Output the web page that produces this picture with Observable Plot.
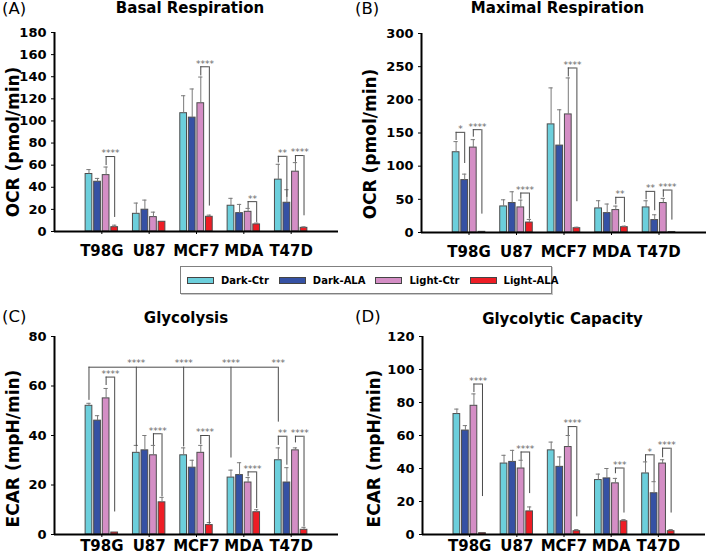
<!DOCTYPE html>
<html>
<head>
<meta charset="utf-8">
<script src="https://cdn.jsdelivr.net/npm/d3@7"></script>
<script src="https://cdn.jsdelivr.net/npm/@observablehq/plot@0.6"></script>
<style>
  body { margin: 0; background: #fff; }
  #root { position: relative; width: 709px; height: 559px; overflow: hidden; font-family: "DejaVu Sans", sans-serif; color: #000; }
  .panel { position: absolute; }
  .panel svg { overflow: visible; }
  .title { position: absolute; font-weight: bold; font-size: 15px; line-height: 15px; white-space: nowrap; transform: translateX(-50%); }
  .letter { position: absolute; font-size: 16.5px; line-height: 16.5px; white-space: nowrap; }
  #legend { position: absolute; left: 180px; top: 266px; width: 372px; height: 28px; box-sizing: border-box;
            border: 1px solid #808080; box-shadow: 1px 1px 0 #c8c8c8; display: flex; align-items: center;
            padding-left: 6px; gap: 10px; font: bold 10px "DejaVu Sans", sans-serif; white-space: nowrap; }
  #legend .item { display: flex; align-items: center; gap: 7px; }
  #legend .sw { width: 27px; height: 7px; border: 1px solid #444; box-sizing: border-box; }
</style>
</head>
<body>
<div id="root">
  <div id="pA" class="panel" style="left:0px;top:0px"></div>
  <div id="pB" class="panel" style="left:355px;top:0px"></div>
  <div id="pC" class="panel" style="left:0px;top:300px"></div>
  <div id="pD" class="panel" style="left:355px;top:300px"></div>
  <div class="letter" style="left:2px;top:1px">(A)</div>
  <div class="letter" style="left:355px;top:1px">(B)</div>
  <div class="letter" style="left:2px;top:308.5px">(C)</div>
  <div class="letter" style="left:355px;top:308.5px">(D)</div>
  <div class="title" style="left:190px;top:0.5px">Basal Respiration</div>
  <div class="title" style="left:557.5px;top:0.5px">Maximal Respiration</div>
  <div class="title" style="left:186px;top:311px">Glycolysis</div>
  <div class="title" style="left:562.5px;top:311.5px">Glycolytic Capacity</div>
  <div id="legend"></div>
</div>
<script>
// ---------- data ----------
const cells  = ["T98G", "U87", "MCF7", "MDA", "T47D"];
const groups = ["Dark-Ctr", "Dark-ALA", "Light-Ctr", "Light-ALA"];
const colors = ["#6ccfdc", "#3551a4", "#d48ec5", "#ee1d25"];

// (A) Basal Respiration, OCR (pmol/min); rows = cells, columns = groups
const basalMean = [[52, 45, 51, 3.9], [16, 19.7, 13, 8.8], [107, 103, 116, 13.3], [23.3, 16.6, 17.8, 6.4], [46.9, 26, 54.1, 3.3]];
const basalErr  = [[4, 3, 7.3, 1.8], [9.7, 8.7, 4.5, 0], [15.8, 25.9, 23.7, 1.5], [6.7, 7.9, 3.1, 1.2], [13.9, 11.8, 8.2, 0.9]];
const basalTicks = [0, 20, 40, 60, 80, 100, 120, 140, 160, 180];
// [cell, group1, group2, bracket level, leg1 end, leg2 end, label]
const basalBrackets = [
  ["T98G", 2, 3, 67.8, 59.6, 12.7, "****"],
  ["MCF7", 2, 3, 149, 140.7, 23, "****"],
  ["MDA", 2, 3, 27, 20.9, 8.2, "**"],
  ["T47D", 0, 1, 68, 62, 30.9, "**"],
  ["T47D", 2, 3, 68.7, 62.6, 14.2, "****"]
];

// (B) Maximal Respiration, OCR (pmol/min)
const maxMean = [[121, 79, 128, 1], [39.3, 44.4, 37.8, 15], [163, 131, 178, 6.5], [36.3, 29.2, 33.8, 8], [37.8, 18.7, 44.4, 0.8]];
const maxErr  = [[16, 9, 12, 0], [10, 17, 11, 4.7], [55, 54, 55, 1.5], [11.6, 13.7, 6, 1.6], [10, 8, 7, 0]];
const maxTicks = [0, 50, 100, 150, 200, 250, 300];
const maxBrackets = [
  ["T98G", 0, 1, 151, 138.7, 104, "*"],
  ["T98G", 2, 3, 155, 143.7, 27.7, "****"],
  ["U87", 2, 3, 59.5, 50.4, 20.2, "****"],
  ["MCF7", 2, 3, 248, 234.5, 46.4, "****"],
  ["MDA", 2, 3, 53, 41.9, 15, "**"],
  ["T47D", 0, 1, 62, 49.4, 32.8, "**"],
  ["T47D", 2, 3, 64, 53, 18.7, "****"]
];

// (C) Glycolysis, ECAR (mpH/min)
const glyMean = [[52, 46, 55, 0.8], [33, 34, 32, 13], [32, 27, 33, 3.8], [23, 24, 21, 9], [30, 21, 34, 1.9]];
const glyErr  = [[1, 2, 4, 0], [3, 6, 4, 2], [3, 3, 3, 1], [3, 5, 2, 1], [5, 6, 1, 1]];
const glyTicks = [0, 20, 40, 60, 80];
const glyBrackets = [
  ["T98G", 2, 3, 63.6, 60.2, 9.1, "****"],
  ["U87", 2, 3, 40.7, 36, 15.2, "****"],
  ["MCF7", 2, 3, 40, 36.3, 4.4, "****"],
  ["MDA", 2, 3, 25.3, 23.3, 10.5, "****"],
  ["T47D", 0, 1, 39.7, 36, 28, "**"],
  ["T47D", 2, 3, 39.7, 37, 3.1, "****"]
];
// T98G Dark-Ctr vs. other cell lines' Dark-Ctr (long bracket)
const glyLongLevel  = 67.6;
const glyLongEnds   = [54.2, 35.6, 35.4, 30.9, 45.4];
const glyLongLabels = ["", "****", "****", "****", "***"];

// (D) Glycolytic Capacity, ECAR (mpH/min)
const capMean = [[73, 63, 78, 0.8], [43, 44, 40, 14], [51, 41, 53, 2], [33, 34, 31, 8], [37, 25, 43, 2]];
const capErr  = [[3, 3, 7.2, 0], [5, 7, 5, 2.7], [5, 6, 7, 1], [3.6, 6, 3, 1], [7, 7, 2.3, 1]];
const capTicks = [0, 20, 40, 60, 80, 100, 120];
const capBrackets = [
  ["T98G", 2, 3, 91.2, 86, 23, "****"],
  ["U87", 2, 3, 50, 45, 24.8, "****"],
  ["MCF7", 2, 3, 65.4, 60, 10.7, "****"],
  ["MDA", 2, 3, 40.3, 36.8, 13, "***"],
  ["T47D", 0, 1, 48.3, 44, 32, "*"],
  ["T47D", 2, 3, 52.3, 46.5, 13, "****"]
];

// ---------- layout helpers ----------
const STEP = 0.181, HALF = 0.071, CAP = 0.045;
const pos = (ci, gi) => ci + 1 + (gi - 1.5) * STEP;

function panel(o) {
  const rows = [];
  cells.forEach((c, i) => groups.forEach((g, j) =>
    rows.push({cell: c, ci: i, group: g, gi: j, v: o.mean[i][j], e: o.err[i][j]})));
  const errRows = rows.filter(d => d.e > 0);
  const br = o.brackets.map(([cell, g1, g2, level, e1, e2, label]) =>
    ({ci: cells.indexOf(cell), g1, g2, level, e1, e2, label}));
  const lineColor = "#4a4a4a";
  const marks = [
    Plot.rectY(rows, {x1: d => pos(d.ci, d.gi) - HALF, x2: d => pos(d.ci, d.gi) + HALF, y: "v",
      fill: d => colors[d.gi], stroke: "#4d4d4d", strokeWidth: 1}),
    Plot.ruleX(errRows, {x: d => pos(d.ci, d.gi), y1: "v", y2: d => d.v + d.e, stroke: "#7a7a7a", strokeWidth: 1}),
    Plot.ruleY(errRows, {y: d => d.v + d.e, x1: d => pos(d.ci, d.gi) - CAP, x2: d => pos(d.ci, d.gi) + CAP, stroke: "#7a7a7a", strokeWidth: 1}),
    Plot.ruleX(br, {x: d => pos(d.ci, d.g1), y1: "e1", y2: "level", stroke: lineColor}),
    Plot.ruleX(br, {x: d => pos(d.ci, d.g2), y1: "e2", y2: "level", stroke: lineColor}),
    Plot.ruleY(br, {y: "level", x1: d => pos(d.ci, d.g1), x2: d => pos(d.ci, d.g2), stroke: lineColor}),
    Plot.text(br, {x: d => (pos(d.ci, d.g1) + pos(d.ci, d.g2)) / 2, y: "level", text: "label",
      dy: -3, fontSize: 9, fill: "#6a6a6a", lineAnchor: "middle"}),
    ...(o.extra || []),
    Plot.ruleY([0], {stroke: "#000", strokeWidth: 2}),
    Plot.ruleX([0], {stroke: "#000", strokeWidth: 2}),
    Plot.axisY(o.ticks, {tickSize: 3, tickPadding: 5, fontSize: 13, fontWeight: "bold", label: null}),
    Plot.axisX([1, 2, 3, 4, 5], {tickFormat: d => cells[d - 1], tickSize: 3, tickPadding: o.tickGap,
      fontSize: 15, fontWeight: "bold", label: null}),
    Plot.text([o.yLabel], {text: d => d, frameAnchor: "left", textAnchor: "middle", lineAnchor: "middle",
      rotate: -90, dx: o.labelDx, dy: o.labelDy, fontSize: 17, fontWeight: "bold"})
  ];
  return Plot.plot({
    width: o.width, height: o.height,
    marginLeft: o.ml, marginRight: o.mr, marginTop: o.mt, marginBottom: o.mb,
    style: {fontFamily: "DejaVu Sans", background: "transparent", color: "#000"},
    x: {domain: [0, 6]},
    y: {domain: [0, o.ymax]},
    marks
  });
}

// long bracket of panel C
const longRows = cells.map((c, i) => ({ci: i, end: glyLongEnds[i], label: glyLongLabels[i]}));
const glyExtra = [
  Plot.ruleX(longRows, {x: d => pos(d.ci, 0), y1: "end", y2: () => glyLongLevel, stroke: "#4a4a4a"}),
  Plot.ruleY([glyLongLevel], {x1: pos(0, 0), x2: pos(cells.length - 1, 0), stroke: "#4a4a4a"}),
  Plot.text(longRows.filter(d => d.label), {x: d => pos(d.ci, 0), y: () => glyLongLevel, text: "label",
    dy: -4.5, fontSize: 9, fill: "#6a6a6a", lineAnchor: "middle"})
];

document.getElementById("pA").append(panel({
  mean: basalMean, err: basalErr, brackets: basalBrackets, ymax: 180, ticks: basalTicks,
  width: 350, height: 262, ml: 54, mr: 12, mt: 32, mb: 31, tickGap: 11,
  yLabel: "OCR (pmol/min)", labelDx: -41, labelDy: 10
}));
document.getElementById("pB").append(panel({
  mean: maxMean, err: maxErr, brackets: maxBrackets, ymax: 300, ticks: maxTicks,
  width: 354, height: 262, ml: 66, mr: 3, mt: 33, mb: 30, tickGap: 11,
  yLabel: "OCR (pmol/min)", labelDx: -51, labelDy: 11
}));
document.getElementById("pC").append(panel({
  mean: glyMean, err: glyErr, brackets: glyBrackets, ymax: 80, ticks: glyTicks,
  width: 350, height: 259, ml: 54, mr: 12, mt: 36, mb: 25, tickGap: 3,
  yLabel: "ECAR (mpH/min)", labelDx: -41, labelDy: 13, extra: glyExtra
}));
document.getElementById("pD").append(panel({
  mean: capMean, err: capErr, brackets: capBrackets, ymax: 120, ticks: capTicks,
  width: 354, height: 259, ml: 67, mr: 4, mt: 36, mb: 25, tickGap: 3,
  yLabel: "ECAR (mpH/min)", labelDx: -48, labelDy: 13
}));

// legend
const legend = document.getElementById("legend");
groups.forEach((g, i) => {
  const item = document.createElement("div");
  item.className = "item";
  const sw = document.createElement("div");
  sw.className = "sw";
  sw.style.background = colors[i];
  const lab = document.createElement("span");
  lab.textContent = g;
  item.append(sw, lab);
  legend.append(item);
});
</script>
</body>
</html>
